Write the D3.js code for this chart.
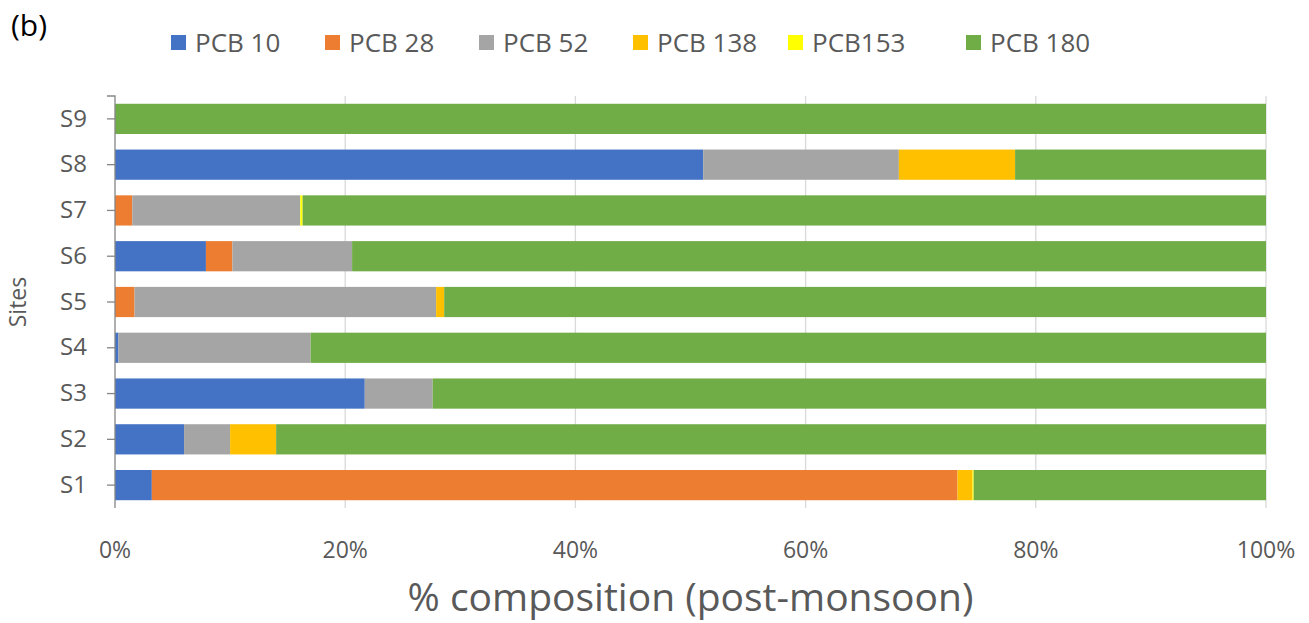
<!DOCTYPE html>
<html>
<head>
<meta charset="utf-8">
<script src="https://cdn.jsdelivr.net/npm/d3@7"></script>
<style>
  body { margin: 0; background: white; }
  text { font-family: "Open Sans", sans-serif; fill: #595959; }
</style>
</head>
<body>
<svg width="1309" height="623"></svg>
<script>
var width = 1309, height = 623;

var sites = ['S1', 'S2', 'S3', 'S4', 'S5', 'S6', 'S7', 'S8', 'S9'];
var congeners = ['PCB 10', 'PCB 28', 'PCB 52', 'PCB 138', 'PCB153', 'PCB 180'];
var colors = ['#4472C4', '#ED7D31', '#A5A5A5', '#FFC000', '#FFFF00', '#70AD47'];

// % share of each congener per site (S1..S9)
var pcb10  = [3.2, 6.0, 21.7, 0.3, 0.0, 7.9, 0.0, 51.1, 0];
var pcb28  = [70.0, 0.0, 0.0, 0.0, 1.7, 2.3, 1.5, 0.0, 0];
var pcb52  = [0.0, 4.0, 5.9, 16.7, 26.2, 10.4, 14.6, 17.0, 0];
var pcb138 = [1.3, 4.0, 0.0, 0.0, 0.7, 0.0, 0.0, 10.1, 0];
var pcb153 = [0.1, 0.0, 0.0, 0.0, 0.0, 0.0, 0.2, 0.0, 0];
var pcb180 = [25.4, 86.0, 72.4, 83.0, 71.4, 79.4, 83.7, 21.8, 100];

var xTicks = [0, 20, 40, 60, 80, 100];

var series = [pcb10, pcb28, pcb52, pcb138, pcb153, pcb180];
var rows = sites.map(function(s, i) {
    var r = { site: s };
    congeners.forEach(function(c, j) { r[c] = series[j][i]; });
    return r;
});

var stack = d3.stack().keys(congeners).offset(d3.stackOffsetExpand);
var layers = stack(rows);

var margin = { left: 115, right: 43, top: 96, bottom: 115 };

var x = d3.scaleLinear()
    .domain([0, 1])
    .range([margin.left, width - margin.right]);

var y = d3.scaleBand()
    .domain(sites.slice().reverse())
    .range([margin.top, height - margin.bottom])
    .paddingInner(0.34)
    .paddingOuter(0.17);

var color = d3.scaleOrdinal().domain(congeners).range(colors);

var svg = d3.select('svg');

// gridlines
svg.append('g')
    .selectAll('line')
    .data(xTicks.slice(1))
    .enter()
    .append('line')
    .attr('x1', function(d) { return x(d / 100); })
    .attr('x2', function(d) { return x(d / 100); })
    .attr('y1', margin.top)
    .attr('y2', height - margin.bottom)
    .attr('stroke', '#d9d9d9')
    .attr('stroke-width', 1.3);

// bars
svg.append('g')
    .selectAll('g')
    .data(layers)
    .enter()
    .append('g')
    .attr('fill', function(d) { return color(d.key); })
    .selectAll('rect')
    .data(function(d) { return d; })
    .enter()
    .append('rect')
    .attr('x', function(d) { return x(d[0]); })
    .attr('width', function(d) { return x(d[1]) - x(d[0]); })
    .attr('y', function(d) { return y(d.data.site); })
    .attr('height', y.bandwidth());

// y axis
var yAxis = svg.append('g')
    .attr('transform', 'translate(' + margin.left + ',0)')
    .call(d3.axisLeft(y).tickSize(8).tickPadding(20));
yAxis.select('.domain')
    .attr('stroke', '#868686')
    .attr('stroke-width', 1.3)
    .attr('d', 'M-8,' + margin.top + 'H0V' + (height - margin.bottom));
yAxis.selectAll('.tick line').attr('stroke', '#868686').attr('stroke-width', 1.3);
yAxis.selectAll('.tick text')
    .attr('fill', '#595959')
    .style('font-size', '24px');

// x tick labels
svg.append('g')
    .selectAll('text')
    .data(xTicks)
    .enter()
    .append('text')
    .attr('x', function(d) { return x(d / 100); })
    .attr('y', 558)
    .attr('text-anchor', 'middle')
    .style('font-size', '23px')
    .text(function(d) { return d + '%'; });

// axis titles
svg.append('text')
    .attr('x', x(0.5))
    .attr('y', 611)
    .attr('text-anchor', 'middle')
    .style('font-size', '39px')
    .text('% composition (post-monsoon)');

svg.append('text')
    .attr('transform', 'translate(26,' + ((margin.top + height - margin.bottom) / 2) + ')rotate(-90)')
    .attr('text-anchor', 'middle')
    .style('font-size', '23px')
    .text('Sites');

svg.append('text')
    .attr('x', 11)
    .attr('y', 36)
    .style('font-size', '30px')
    .style('fill', '#000')
    .text('(b)');

// legend
var legendX = [171, 325, 479, 633, 788, 966];
var legend = svg.append('g')
    .selectAll('g')
    .data(congeners)
    .enter()
    .append('g')
    .attr('transform', function(d, i) { return 'translate(' + legendX[i] + ',35)'; });

legend.append('rect')
    .attr('width', 15)
    .attr('height', 15)
    .attr('fill', function(d) { return color(d); });

legend.append('text')
    .attr('x', 24)
    .attr('y', 17)
    .style('font-size', '26px')
    .text(function(d) { return d; });
</script>
</body>
</html>
